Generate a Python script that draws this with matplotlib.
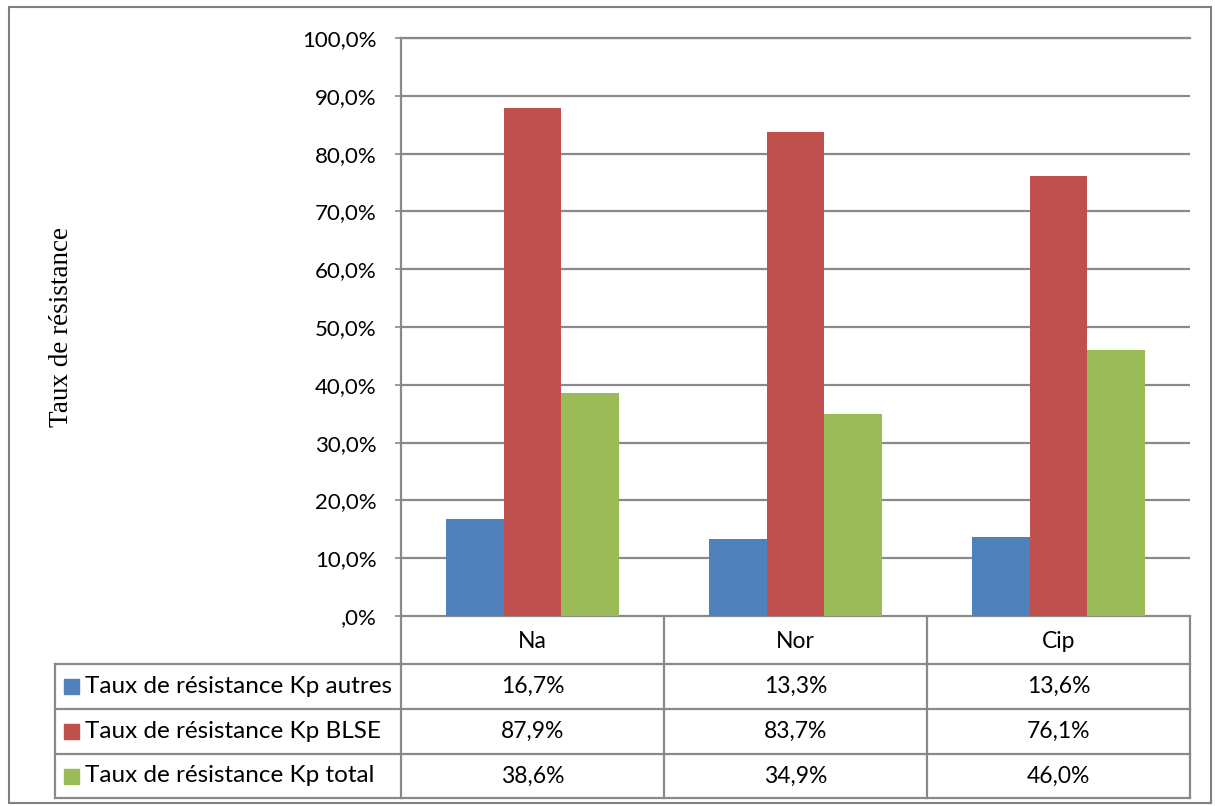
import matplotlib
matplotlib.use("Agg")
import matplotlib.pyplot as plt
from matplotlib.patches import Rectangle
import numpy as np

# ---- data ----
categories = ["Na", "Nor", "Cip"]
series_names = ["Taux de résistance Kp autres",
                "Taux de résistance Kp BLSE",
                "Taux de résistance Kp total"]
kp_autres = [0.167, 0.133, 0.136]
kp_blse = [0.879, 0.837, 0.761]
kp_total = [0.386, 0.349, 0.460]
yticks = [0.0, 0.1, 0.2, 0.3, 0.4, 0.5, 0.6, 0.7, 0.8, 0.9, 1.0]
ylabel = "Taux de résistance"

series = [kp_autres, kp_blse, kp_total]
colors = ["#4F81BD", "#C0504D", "#9BBB59"]
grid_c = "#898989"
font = "Lato"


def pct(v, nd=1):
    s = f"{v * 100:.{nd}f}".replace(".", ",")
    if s.startswith("0"):
        s = s[1:]
    return s + "%"


W, H = 1215, 806
fig = plt.figure(figsize=(W / 100, H / 100), dpi=100)
L, R, T, B = 401, 1190, 38, 616
ax = fig.add_axes([L / W, 1 - B / H, (R - L) / W, (B - T) / H])

n = len(categories)
x = np.arange(n)
bw = 0.22
for i, (vals, c) in enumerate(zip(series, colors)):
    ax.bar(x + (i - 1) * bw, vals, bw, color=c, edgecolor="none", zorder=3)

ax.set_xlim(-0.5, n - 0.5)
ax.set_ylim(0, 1)
ax.set_yticks(yticks)
ax.set_yticklabels([pct(v) for v in yticks], fontfamily=font, fontsize=16)
ax.set_xticks([])
ax.yaxis.grid(True, color=grid_c, lw=1.6, zorder=0)
ax.tick_params(axis="y", length=4.5, width=1.2, color=grid_c, pad=13)
for s in ["right", "bottom"]:
    ax.spines[s].set_visible(False)
for s in ["left", "top"]:
    ax.spines[s].set_color(grid_c)
    ax.spines[s].set_linewidth(1.6)

# ---- table ----
tax = fig.add_axes([0, 0, 1, 1], zorder=-1)
tax.set_xlim(0, W)
tax.set_ylim(H, 0)
tax.axis("off")
lc = grid_c
lw = 1.6
leftx = 55
row_y = [616, 664, 709, 754, 798]
cw = (R - L) / n
col_x = [L + k * cw for k in range(n + 1)]

tax.plot([L, R], [row_y[0], row_y[0]], color=lc, lw=lw)
for yy in row_y[1:]:
    tax.plot([leftx, R], [yy, yy], color=lc, lw=lw)
for xx in col_x:
    tax.plot([xx, xx], [row_y[0], row_y[-1]], color=lc, lw=lw)
tax.plot([leftx, leftx], [row_y[1], row_y[-1]], color=lc, lw=lw)

fs = 16.5
for j, cat in enumerate(categories):
    tax.text((col_x[j] + col_x[j + 1]) / 2, (row_y[0] + row_y[1]) / 2 + 1, cat,
             ha="center", va="center", fontfamily=font, fontsize=fs)
for i, (name, vals, c) in enumerate(zip(series_names, series, colors)):
    yc = (row_y[i + 1] + row_y[i + 2]) / 2
    tax.add_patch(Rectangle((64, yc - 7.5), 15, 15, color=c))
    tax.text(85, yc, name, ha="left", va="center", fontfamily=font, fontsize=17.5)
    for j, v in enumerate(vals):
        tax.text((col_x[j] + col_x[j + 1]) / 2, yc, pct(v),
                 ha="center", va="center", fontfamily=font, fontsize=fs)

# outer border
tax.add_patch(Rectangle((9, 7), 1202, 796, fill=False, edgecolor="#808080", lw=1.5))

fig.text(62 / W, 1 - 327 / H, ylabel, rotation=90, ha="center", va="center",
         fontfamily="Liberation Serif", fontsize=19.5)

fig.savefig("out.png", dpi=100, facecolor="white")
